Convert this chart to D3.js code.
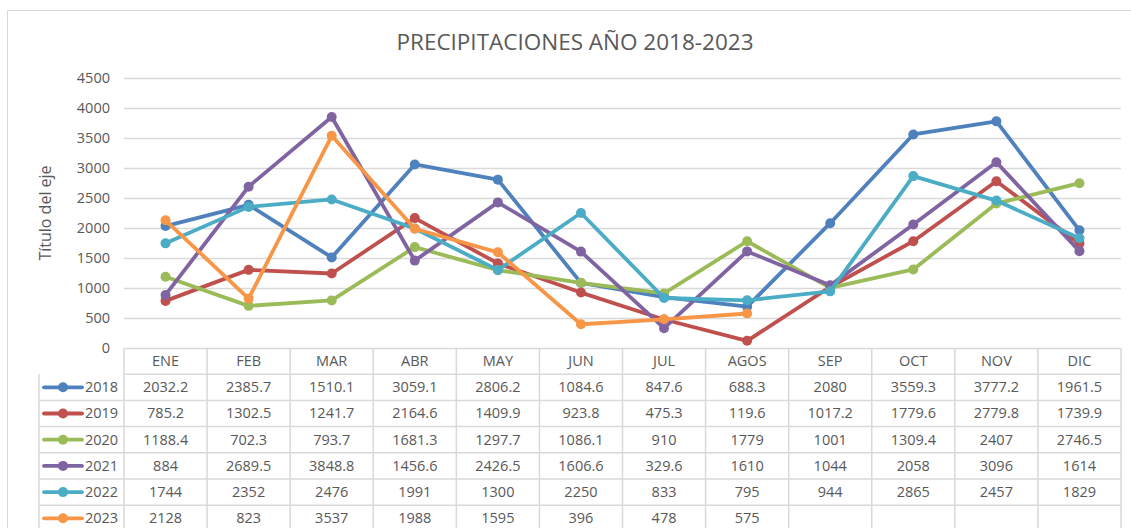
<!DOCTYPE html>
<html>
<head>
<meta charset="utf-8">
<script src="https://cdn.jsdelivr.net/npm/d3@7"></script>
<style>
  body { margin: 0; background: #fff; }
  svg { display: block; font-family: "Open Sans", "Noto Sans", sans-serif; }
</style>
</head>
<body>
<div id="chart"></div>
<script>
// months on the category axis
const months = ['ENE', 'FEB', 'MAR', 'ABR', 'MAY', 'JUN', 'JUL', 'AGOS', 'SEP', 'OCT', 'NOV', 'DIC'];
const years = ['2018', '2019', '2020', '2021', '2022', '2023'];
// series values as shown in the data table
const v2018 = [2032.2, 2385.7, 1510.1, 3059.1, 2806.2, 1084.6, 847.6, 688.3, 2080, 3559.3, 3777.2, 1961.5];
const v2019 = [785.2, 1302.5, 1241.7, 2164.6, 1409.9, 923.8, 475.3, 119.6, 1017.2, 1779.6, 2779.8, 1739.9];
const v2020 = [1188.4, 702.3, 793.7, 1681.3, 1297.7, 1086.1, 910, 1779, 1001, 1309.4, 2407, 2746.5];
const v2021 = [884, 2689.5, 3848.8, 1456.6, 2426.5, 1606.6, 329.6, 1610, 1044, 2058, 3096, 1614];
const v2022 = [1744, 2352, 2476, 1991, 1300, 2250, 833, 795, 944, 2865, 2457, 1829];
const v2023 = [2128, 823, 3537, 1988, 1595, 396, 478, 575, null, null, null, null];
const yTicks = [0, 500, 1000, 1500, 2000, 2500, 3000, 3500, 4000, 4500];
const colors = ['#4f81bd', '#c0504d', '#9bbb59', '#8064a2', '#4bacc6', '#f79646'];

const series = years.map((y, i) => ({
    year: y,
    values: [v2018, v2019, v2020, v2021, v2022, v2023][i]
}));

const width = 1131, height = 528;
const plot = {left: 124, right: 1121, top: 78, bottom: 348};
const rowH = 26.2;
const legendLeft = 39;
const textColor = '#595959';
const gridColor = '#d9d9d9';
const fs = 14.5;

let svg = d3.select('#chart').append('svg')
    .attr('width', width)
    .attr('height', height);

// chart border
svg.append('rect')
    .attr('x', 7.5).attr('y', 10.5)
    .attr('width', width + 20).attr('height', height + 20)
    .attr('fill', 'none')
    .attr('stroke', gridColor);

// title
svg.append('text')
    .attr('x', 575).attr('y', 50)
    .attr('text-anchor', 'middle')
    .attr('fill', textColor)
    .attr('font-size', 22.5)
    .text('PRECIPITACIONES AÑO 2018-2023');

let x = d3.scaleBand()
    .domain(months)
    .range([plot.left, plot.right]);

let y = d3.scaleLinear()
    .domain([0, 4500])
    .range([plot.bottom, plot.top]);

// gridlines + tick labels
let yAxis = svg.append('g')
    .attr('transform', `translate(${plot.left},0)`)
    .call(d3.axisLeft(y).tickValues(yTicks).tickFormat(d3.format('d'))
        .tickSize(-(plot.right - plot.left)).tickPadding(14));
yAxis.select('.domain').remove();
yAxis.selectAll('.tick line').attr('stroke', gridColor).attr('stroke-width', 1.3);
yAxis.selectAll('.tick text')
    .attr('fill', textColor)
    .attr('font-size', fs)
    .attr('font-family', '"Open Sans", "Noto Sans", sans-serif');

// axis title
svg.append('text')
    .attr('transform', `translate(51,${(plot.top + plot.bottom) / 2}) rotate(-90)`)
    .attr('text-anchor', 'middle')
    .attr('fill', textColor)
    .attr('font-size', 16)
    .text('Título del eje');

// lines
let line = d3.line()
    .defined(d => d != null)
    .x((d, i) => x(months[i]) + x.bandwidth() / 2)
    .y(d => y(d));

let sg = svg.append('g').selectAll('g')
    .data(series)
    .enter().append('g');

sg.append('path')
    .attr('d', d => line(d.values))
    .attr('fill', 'none')
    .attr('stroke', (d, i) => colors[i])
    .attr('stroke-width', 3.8)
    .attr('stroke-linejoin', 'round');

sg.each(function(d, i) {
    d3.select(this).selectAll('circle')
        .data(d.values.map((v, j) => ({v: v, m: months[j]})).filter(p => p.v != null))
        .enter().append('circle')
            .attr('cx', p => x(p.m) + x.bandwidth() / 2)
            .attr('cy', p => y(p.v))
            .attr('r', 5)
            .attr('fill', colors[i]);
});

// data table
let table = svg.append('g');

// header row
table.selectAll('.hdr')
    .data(months)
    .enter().append('text')
        .attr('x', d => x(d) + x.bandwidth() / 2)
        .attr('y', plot.bottom + rowH / 2 + 5)
        .attr('text-anchor', 'middle')
        .attr('fill', textColor)
        .attr('font-size', fs)
        .text(d => d);

// vertical lines
table.selectAll('.vl')
    .data(months.concat(['end']))
    .enter().append('line')
        .attr('x1', d => d === 'end' ? plot.right : x(d))
        .attr('x2', d => d === 'end' ? plot.right : x(d))
        .attr('y1', plot.bottom)
        .attr('y2', height + 10)
        .attr('stroke', gridColor).attr('stroke-width', 1.5);

table.append('line')
    .attr('x1', legendLeft).attr('x2', legendLeft)
    .attr('y1', plot.bottom + rowH).attr('y2', height + 10)
    .attr('stroke', gridColor).attr('stroke-width', 1.5);

// horizontal lines
table.selectAll('.hl')
    .data(d3.range(series.length + 1))
    .enter().append('line')
        .attr('x1', d => d === 0 ? plot.left : legendLeft)
        .attr('x2', plot.right)
        .attr('y1', d => plot.bottom + rowH * (d + 1))
        .attr('y2', d => plot.bottom + rowH * (d + 1))
        .attr('stroke', gridColor).attr('stroke-width', 1.5);

let rows = table.selectAll('.row')
    .data(series)
    .enter().append('g')
        .attr('transform', (d, i) => `translate(0,${plot.bottom + rowH * (i + 1)})`);

rows.append('line')
    .attr('x1', legendLeft + 5).attr('x2', legendLeft + 43)
    .attr('y1', rowH / 2).attr('y2', rowH / 2)
    .attr('stroke', (d, i) => colors[i])
    .attr('stroke-width', 3.8)
    .attr('stroke-linecap', 'round');

rows.append('circle')
    .attr('cx', legendLeft + 24).attr('cy', rowH / 2)
    .attr('r', 5)
    .attr('fill', (d, i) => colors[i]);

rows.append('text')
    .attr('x', legendLeft + 46)
    .attr('y', rowH / 2 + 5)
    .attr('fill', textColor)
    .attr('font-size', fs)
    .text(d => d.year);

rows.selectAll('.val')
    .data(d => d.values.map((v, j) => ({v: v, m: months[j]})).filter(p => p.v != null))
    .enter().append('text')
        .attr('x', p => x(p.m) + x.bandwidth() / 2)
        .attr('y', rowH / 2 + 5)
        .attr('text-anchor', 'middle')
        .attr('fill', textColor)
        .attr('font-size', fs)
        .text(p => p.v);
</script>
</body>
</html>
